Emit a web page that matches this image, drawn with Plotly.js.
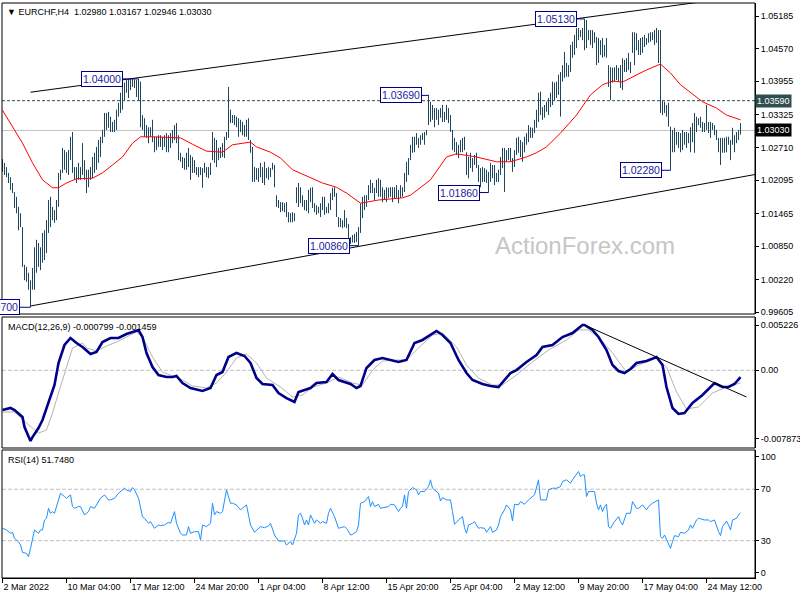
<!DOCTYPE html>
<html><head><meta charset="utf-8">
<script src="https://cdn.plot.ly/plotly-3.0.1.min.js"></script>
<style>html,body{margin:0;padding:0;background:#fff;}#chart{width:800px;height:600px;}</style>
</head><body><div id="chart"></div>
<script>
// ---- EURCHF H4 bars (index 0 = first visible bar) ----
const highs = [
1.0249,1.0242,1.0234,1.0223,1.0215,1.0204,1.0187,1.0178,1.0159,1.0147,
1.0121,1.0050,1.0046,1.0035,1.0021,1.0044,1.0083,1.0097,1.0091,1.0083,
1.0110,1.0115,1.0134,1.0172,1.0178,1.0159,1.0153,1.0172,1.0223,1.0229,
1.0270,1.0266,1.0262,1.0266,1.0291,1.0300,1.0234,1.0234,1.0242,1.0234,
1.0279,1.0247,1.0229,1.0229,1.0234,1.0253,1.0261,1.0272,1.0285,1.0291,
1.0304,1.0336,1.0336,1.0338,1.0329,1.0319,1.0323,1.0342,1.0355,1.0374,
1.0389,1.0393,1.0398,1.0400,1.0400,1.0400,1.0399,1.0398,1.0400,1.0395,
1.0332,1.0326,1.0313,1.0309,1.0309,1.0323,1.0291,1.0291,1.0294,1.0294,
1.0291,1.0294,1.0298,1.0294,1.0298,1.0304,1.0313,1.0317,1.0294,1.0261,
1.0253,1.0251,1.0261,1.0270,1.0257,1.0253,1.0247,1.0234,1.0234,1.0234,
1.0232,1.0242,1.0234,1.0234,1.0242,1.0300,1.0289,1.0285,1.0270,1.0272,
1.0279,1.0291,1.0300,1.0385,1.0342,1.0332,1.0332,1.0329,1.0326,1.0323,
1.0319,1.0313,1.0323,1.0326,1.0285,1.0272,1.0234,1.0232,1.0232,1.0242,
1.0234,1.0244,1.0232,1.0234,1.0232,1.0242,1.0238,1.0181,1.0172,1.0168,
1.0168,1.0166,1.0168,1.0149,1.0147,1.0149,1.0147,1.0196,1.0204,1.0196,
1.0181,1.0172,1.0172,1.0191,1.0195,1.0196,1.0166,1.0162,1.0159,1.0166,
1.0178,1.0178,1.0159,1.0166,1.0185,1.0195,1.0196,1.0185,1.0140,1.0138,
1.0134,1.0153,1.0138,1.0127,1.0102,1.0106,1.0108,1.0112,1.0121,1.0166,
1.0178,1.0181,1.0181,1.0200,1.0210,1.0204,1.0195,1.0210,1.0213,1.0210,
1.0196,1.0191,1.0196,1.0195,1.0196,1.0196,1.0196,1.0200,1.0191,1.0200,
1.0196,1.0223,1.0244,1.0251,1.0276,1.0291,1.0291,1.0298,1.0289,1.0294,
1.0298,1.0300,1.0304,1.0370,1.0357,1.0351,1.0345,1.0345,1.0342,1.0345,
1.0351,1.0338,1.0351,1.0345,1.0332,1.0304,1.0289,1.0281,1.0276,1.0285,
1.0289,1.0291,1.0262,1.0253,1.0261,1.0251,1.0257,1.0261,1.0238,1.0232,
1.0234,1.0232,1.0229,1.0225,1.0242,1.0238,1.0238,1.0223,1.0229,1.0253,
1.0270,1.0270,1.0266,1.0270,1.0270,1.0251,1.0266,1.0289,1.0291,1.0285,
1.0281,1.0291,1.0298,1.0313,1.0309,1.0308,1.0323,1.0342,1.0374,1.0376,
1.0347,1.0351,1.0357,1.0364,1.0374,1.0395,1.0393,1.0395,1.0408,1.0413,
1.0426,1.0451,1.0430,1.0426,1.0464,1.0470,1.0483,1.0496,1.0496,1.0492,
1.0496,1.0513,1.0511,1.0492,1.0492,1.0492,1.0488,1.0479,1.0477,1.0473,
1.0477,1.0464,1.0477,1.0426,1.0422,1.0421,1.0422,1.0426,1.0421,1.0426,
1.0439,1.0436,1.0439,1.0449,1.0432,1.0488,1.0488,1.0486,1.0473,1.0477,
1.0479,1.0483,1.0477,1.0486,1.0488,1.0488,1.0492,1.0496,1.0492,1.0492,
1.0360,1.0357,1.0351,1.0355,1.0310,1.0304,1.0308,1.0300,1.0300,1.0298,
1.0304,1.0300,1.0300,1.0298,1.0309,1.0317,1.0336,1.0329,1.0326,1.0329,
1.0319,1.0317,1.0351,1.0319,1.0319,1.0317,1.0313,1.0304,1.0289,1.0289,
1.0289,1.0289,1.0291,1.0291,1.0285,1.0308,1.0294,1.0300,1.0304,1.0317];
const lows = [
1.0225,1.0219,1.0215,1.0204,1.0191,1.0185,1.0157,1.0147,1.0115,1.0121,
1.0046,1.0021,1.0018,1.0003,0.9970,1.0003,1.0003,1.0035,1.0046,1.0040,
1.0054,1.0059,1.0072,1.0110,1.0121,1.0134,1.0129,1.0134,1.0159,1.0210,
1.0223,1.0229,1.0223,1.0219,1.0247,1.0223,1.0210,1.0204,1.0210,1.0210,
1.0219,1.0210,1.0185,1.0196,1.0210,1.0213,1.0223,1.0229,1.0242,1.0253,
1.0279,1.0291,1.0304,1.0308,1.0300,1.0300,1.0300,1.0304,1.0329,1.0336,
1.0342,1.0360,1.0374,1.0364,1.0379,1.0385,1.0383,1.0366,1.0360,1.0309,
1.0304,1.0291,1.0289,1.0279,1.0291,1.0281,1.0262,1.0266,1.0272,1.0272,
1.0266,1.0272,1.0262,1.0262,1.0270,1.0279,1.0285,1.0279,1.0247,1.0244,
1.0232,1.0229,1.0229,1.0234,1.0210,1.0223,1.0223,1.0219,1.0215,1.0219,
1.0195,1.0223,1.0215,1.0213,1.0219,1.0247,1.0242,1.0234,1.0247,1.0251,
1.0253,1.0251,1.0285,1.0289,1.0317,1.0317,1.0313,1.0309,1.0291,1.0300,
1.0294,1.0291,1.0291,1.0285,1.0261,1.0206,1.0206,1.0210,1.0206,1.0215,
1.0204,1.0200,1.0213,1.0210,1.0215,1.0229,1.0196,1.0159,1.0157,1.0149,
1.0151,1.0149,1.0140,1.0130,1.0130,1.0130,1.0132,1.0166,1.0159,1.0166,
1.0159,1.0153,1.0151,1.0147,1.0168,1.0157,1.0149,1.0144,1.0147,1.0140,
1.0153,1.0144,1.0147,1.0147,1.0153,1.0172,1.0178,1.0140,1.0121,1.0121,
1.0119,1.0121,1.0119,1.0090,1.0089,1.0092,1.0091,1.0093,1.0086,1.0110,
1.0138,1.0153,1.0159,1.0172,1.0185,1.0185,1.0172,1.0185,1.0178,1.0178,
1.0168,1.0172,1.0168,1.0176,1.0178,1.0168,1.0174,1.0176,1.0166,1.0176,
1.0178,1.0187,1.0206,1.0219,1.0247,1.0261,1.0262,1.0276,1.0270,1.0276,
1.0285,1.0276,1.0294,1.0313,1.0319,1.0323,1.0309,1.0323,1.0313,1.0327,
1.0319,1.0319,1.0323,1.0317,1.0300,1.0266,1.0262,1.0257,1.0251,1.0262,
1.0262,1.0266,1.0219,1.0213,1.0232,1.0225,1.0238,1.0232,1.0206,1.0196,
1.0206,1.0206,1.0204,1.0186,1.0206,1.0213,1.0200,1.0206,1.0206,1.0219,
1.0232,1.0187,1.0244,1.0247,1.0244,1.0225,1.0234,1.0257,1.0261,1.0253,
1.0244,1.0262,1.0276,1.0281,1.0289,1.0289,1.0298,1.0308,1.0319,1.0332,
1.0323,1.0327,1.0338,1.0332,1.0347,1.0351,1.0360,1.0364,1.0370,1.0329,
1.0395,1.0402,1.0404,1.0404,1.0413,1.0440,1.0445,1.0458,1.0473,1.0479,
1.0473,1.0454,1.0458,1.0473,1.0464,1.0458,1.0468,1.0426,1.0430,1.0445,
1.0440,1.0442,1.0440,1.0385,1.0360,1.0393,1.0395,1.0398,1.0395,1.0383,
1.0379,1.0413,1.0413,1.0417,1.0411,1.0449,1.0426,1.0454,1.0445,1.0445,
1.0449,1.0460,1.0464,1.0468,1.0470,1.0473,1.0464,1.0468,1.0430,1.0336,
1.0332,1.0336,1.0329,1.0310,1.0228,1.0262,1.0262,1.0276,1.0270,1.0262,
1.0266,1.0276,1.0270,1.0279,1.0262,1.0281,1.0261,1.0300,1.0313,1.0308,
1.0300,1.0300,1.0304,1.0298,1.0289,1.0304,1.0294,1.0285,1.0262,1.0238,
1.0261,1.0261,1.0262,1.0276,1.0247,1.0276,1.0262,1.0279,1.0285,1.0295];

// ---- moving average (red), read at bar indices ----
const maPoints = [[0,1.0341],[5,1.0309],[10,1.0279],[15,1.0242],[20,1.0210],[25,1.0195],[28,1.0195],[32,1.0204],[37,1.0212],[45,1.0213],
[50,1.0223],[55,1.0238],[60,1.0253],[65,1.0279],[69,1.0291],[75,1.0291],[89,1.0289],[95,1.0277],[102,1.0264],[110,1.0262],
[115,1.0276],[124,1.0281],[127,1.0272],[134,1.0262],[139,1.0251],[145,1.0229],[155,1.0213],[160,1.0204],[167,1.0196],[172,1.0185],
[179,1.0166],[182,1.0168],[188,1.0172],[200,1.0176],[204,1.0181],[214,1.0210],[222,1.0253],[227,1.0259],[237,1.0253],[247,1.0244],
[254,1.0244],[262,1.0253],[267,1.0261],[272,1.0272],[279,1.0298],[287,1.0332],[294,1.0370],[300,1.0389],[305,1.0396],[310,1.0394],
[317,1.0407],[322,1.0417],[329,1.0428],[334,1.0411],[339,1.0389],[344,1.0374],[350,1.0357],[357,1.0345],[362,1.0332],[369,1.0323]];

// ---- MACD(12,26,9) ----
const macdPoints = [[0,-0.00458],[4,-0.00435],[6,-0.00458],[10,-0.00539],[11,-0.00654],[14,-0.00816],[15,-0.00770],[18,-0.00666],[20,-0.00573],[24,-0.00308],
[26,-0.00170],[28,0.00084],[31,0.00292],[34,0.00373],[37,0.00315],[40,0.00269],[44,0.00188],[47,0.00211],[50,0.00326],[54,0.00373],
[58,0.00373],[62,0.00419],[66,0.00454],[68,0.00465],[70,0.00384],[72,0.00200],[75,0.00038],[78,-0.00054],[82,-0.00077],[85,-0.00077],
[87,-0.00066],[90,-0.00147],[94,-0.00204],[100,-0.00239],[104,-0.00204],[107,-0.00054],[110,-0.00020],[113,0.00153],[117,0.00200],[121,0.00165],
[124,0.00084],[127,-0.00089],[130,-0.00158],[135,-0.00170],[138,-0.00262],[142,-0.00320],[146,-0.00366],[148,-0.00250],[154,-0.00204],[157,-0.00147],
[162,-0.00135],[165,-0.00043],[168,-0.00112],[174,-0.00158],[177,-0.00204],[179,-0.00181],[182,0.00027],[186,0.00119],[190,0.00142],[194,0.00119],
[198,0.00096],[202,0.00119],[206,0.00315],[210,0.00350],[214,0.00407],[217,0.00454],[220,0.00407],[224,0.00315],[228,0.00119],[232,-0.00031],
[235,-0.00112],[240,-0.00158],[244,-0.00181],[248,-0.00193],[254,-0.00031],[257,0.00003],[262,0.00096],[267,0.00177],[270,0.00269],[275,0.00292],
[280,0.00384],[285,0.00430],[290,0.00523],[291,0.00523],[295,0.00465],[298,0.00384],[302,0.00234],[305,0.00061],[308,-0.00008],[311,-0.00031],
[314,0.00015],[317,0.00084],[322,0.00107],[327,0.00153],[330,0.00061],[332,-0.00193],[335,-0.00435],[338,-0.00504],[341,-0.00493],[345,-0.00377],
[350,-0.00285],[356,-0.00147],[360,-0.00193],[363,-0.00193],[366,-0.00158],[369,-0.00080]];
const signalPoints = [[0,-0.00481],[6,-0.00481],[12,-0.00608],[18,-0.00724],[22,-0.00689],[25,-0.00493],[28,-0.00262],[32,0.00038],[35,0.00257],[40,0.00315],
[42,0.00257],[47,0.00223],[52,0.00280],[57,0.00326],[62,0.00384],[67,0.00442],[70,0.00384],[75,0.00153],[80,-0.00020],[85,-0.00066],
[90,-0.00112],[95,-0.00181],[102,-0.00204],[107,-0.00147],[112,-0.00020],[117,0.00142],[122,0.00188],[127,0.00084],[132,-0.00089],[139,-0.00193],
[145,-0.00308],[150,-0.00285],[155,-0.00193],[162,-0.00147],[168,-0.00077],[175,-0.00147],[180,-0.00170],[185,0.00003],[190,0.00107],[198,0.00119],
[202,0.00119],[208,0.00257],[215,0.00407],[220,0.00430],[227,0.00269],[232,0.00061],[238,-0.00089],[245,-0.00170],[250,-0.00170],[257,-0.00054],
[265,0.00096],[273,0.00234],[282,0.00350],[288,0.00465],[293,0.00465],[298,0.00384],[305,0.00200],[312,-0.00020],[318,0.00061],[327,0.00142],
[332,0.00038],[337,-0.00250],[342,-0.00446],[348,-0.00423],[355,-0.00262],[362,-0.00193],[369,-0.00146]];
const macdTrend = [[291,0.00523],[372,-0.00308]];

// ---- RSI(14) ----
const rsiPoints = [[0,39.6],[2,38.3],[4,35.7],[5,36.5],[6,31.8],[8,29.2],[9,26.6],[10,20.9],[12,20.1],[13,17.5],[14,24.0],[15,30.5],[16,38.3],[18,35.7],[19,38.3],[20,38.3],[21,46.1],[22,47.4],[23,55.2],[24,51.3],[25,52.6],[26,51.3],[28,61.7],[29,66.9],[31,64.3],[32,63.0],[34,65.6],[35,56.5],[36,55.2],[38,56.5],[39,56.5],[41,50.0],[43,52.6],[44,56.5],[46,55.2],[48,60.4],[49,63.0],[51,65.6],[53,61.7],[54,61.7],[56,63.0],[58,66.9],[59,68.2],[61,70.8],[62,69.5],[64,68.2],[65,71.3],[66,69.5],[68,63.0],[69,55.2],[70,48.7],[71,47.4],[73,43.5],[74,44.8],[76,39.6],[78,42.2],[79,41.7],[81,42.2],[83,44.3],[84,43.5],[86,52.6],[87,43.5],[89,35.7],[90,34.4],[92,34.4],[93,40.9],[94,35.7],[96,37.0],[98,37.0],[99,30.5],[100,42.2],[102,40.9],[104,43.5],[105,59.1],[106,50.0],[107,52.6],[109,51.3],[110,52.6],[112,69.5],[114,59.1],[115,59.1],[117,57.8],[119,53.9],[120,55.2],[122,57.8],[123,50.0],[124,42.2],[126,36.5],[128,39.6],[129,40.9],[131,40.1],[133,41.4],[134,43.5],[136,34.4],[138,29.7],[139,29.7],[141,29.7],[142,26.6],[144,29.2],[145,26.6],[147,35.7],[148,50.0],[149,51.3],[150,47.4],[151,42.2],[152,46.1],[153,42.2],[154,50.0],[156,43.5],[157,46.1],[159,43.5],[160,44.8],[162,43.5],[163,51.3],[164,55.2],[166,48.7],[168,39.6],[169,40.1],[171,40.9],[172,39.6],[174,34.4],[175,34.9],[177,37.0],[178,42.2],[179,59.1],[181,60.4],[183,64.3],[184,56.5],[185,60.4],[186,56.5],[188,58.3],[189,55.2],[191,55.7],[193,56.5],[194,58.3],[196,57.8],[198,52.6],[199,55.2],[200,56.5],[201,65.6],[202,55.2],[203,68.2],[205,71.3],[207,69.5],[208,65.6],[209,68.2],[211,68.2],[213,72.1],[214,77.3],[215,70.8],[216,69.5],[218,66.9],[219,60.9],[220,63.5],[222,61.7],[224,61.7],[225,52.6],[226,42.7],[228,46.1],[230,48.7],[231,40.1],[232,35.7],[233,42.2],[235,43.5],[236,44.8],[238,39.6],[239,40.1],[241,39.6],[242,36.5],[243,38.3],[244,40.9],[245,36.5],[247,38.3],[248,42.2],[249,48.7],[251,53.9],[252,57.8],[254,53.9],[255,45.3],[256,58.3],[258,57.8],[259,60.4],[261,58.3],[263,61.7],[264,63.0],[266,65.6],[268,77.3],[269,61.7],[272,61.7],[273,69.5],[275,70.8],[277,70.8],[279,72.1],[280,76.0],[282,77.3],[284,74.7],[285,77.3],[287,81.2],[288,83.8],[289,79.9],[290,81.2],[291,81.2],[292,64.3],[293,68.2],[294,68.2],[296,68.2],[297,59.1],[298,53.9],[299,57.8],[300,52.6],[301,56.5],[302,58.3],[303,40.9],[304,39.6],[306,44.8],[308,48.7],[309,44.8],[310,42.2],[312,51.3],[314,51.3],[315,60.4],[317,55.2],[318,55.2],[320,57.8],[322,53.9],[323,56.5],[325,59.1],[327,60.9],[328,61.7],[329,33.1],[330,31.8],[331,34.4],[334,24.0],[335,29.2],[336,33.9],[338,33.1],[339,36.5],[341,35.7],[343,38.3],[344,42.2],[345,39.6],[347,46.1],[348,47.4],[351,46.1],[353,46.1],[354,44.8],[356,46.1],[358,37.0],[359,33.9],[360,40.9],[362,45.3],[363,42.2],[364,38.3],[365,46.1],[367,47.4],[368,50.0],[369,51.7]];

// ---- channel lines, levels, labels ----
const upperChannel = [[14,1.0375],[347.25,1.0544]];
const lowerChannel = [[14,0.99724],[376.25,1.0220]];
const resistLevel = 1.0359;
const bidLevel = 1.0303;
const swingBars   = [14, 68, 178, 213, 243, 291, 334];
const swingPrices = [0.99700, 1.04000, 1.00860, 1.03690, 1.01860, 1.05130, 1.02280];
const swingText   = ['0.99700','1.04000','1.00860','1.03690','1.01860','1.05130','1.02280'];
const swingBoxRight = [8.75, 60.25, 173.75, 209.75, 238.75, 287.25, 329.75]; // layout: box right edge (bar units)

const priceTicks = [1.05185,1.04570,1.03955,1.03325,1.02710,1.02095,1.01465,1.00850,1.00220,0.99605];
const priceTickText = ['1.05185','1.04570','1.03955','1.03325','1.02710','1.02095','1.01465','1.00850','1.00220','0.99605'];
const macdTicks = [0.005226, 0, -0.007873];
const macdTickText = ['0.005226','0.00','-0.007873'];
const rsiTicks = [95.3, 70, 30, 5.1];
const rsiTickText = ['100','70','30','0'];
const xTickIdx = [0,32,64,96,128,160,192,224,256,288,320,352];
const xTickText = ['2 Mar 2022','10 Mar 04:00','17 Mar 12:00','24 Mar 20:00','1 Apr 04:00','8 Apr 12:00','15 Apr 20:00','25 Apr 04:00','2 May 12:00','9 May 20:00','17 May 04:00','24 May 12:00'];
const titleText = '\u25BC EURCHF,H4\u00A0\u00A01.02980 1.03167 1.02946 1.03030';
const macdText = 'MACD(12,26,9) -0.000799 -0.001459';
const rsiText = 'RSI(14) 51.7480';

// ---- build ----
const FONT = 'Liberation Sans, Arial, sans-serif';
const bx = [], by = [];
for (let i = 0; i < highs.length; i++) { bx.push(i, i, null); by.push(lows[i], highs[i], null); }
const col = (a, k) => a.map(p => p[k]);

const traces = [
  {type:'scatter', mode:'lines', x:bx, y:by, xaxis:'x', yaxis:'y', line:{color:'#1E465F', width:1}, hoverinfo:'skip', connectgaps:false},
  {type:'scatter', mode:'lines', x:col(maPoints,0), y:col(maPoints,1), xaxis:'x', yaxis:'y', line:{color:'#FF0000', width:1}, hoverinfo:'skip'},
  {type:'scatter', mode:'lines', x:col(signalPoints,0), y:col(signalPoints,1), xaxis:'x', yaxis:'y2', line:{color:'#B4B4B4', width:1}, hoverinfo:'skip'},
  {type:'scatter', mode:'lines', x:col(macdPoints,0), y:col(macdPoints,1), xaxis:'x', yaxis:'y2', line:{color:'#00008B', width:2.6}, hoverinfo:'skip'},
  {type:'scatter', mode:'lines', x:col(rsiPoints,0), y:col(rsiPoints,1), xaxis:'x', yaxis:'y3', line:{color:'#1E90FF', width:1}, hoverinfo:'skip'}
];

const axisCommon = {side:'right', showline:true, linecolor:'#000', linewidth:1, ticks:'outside', ticklen:3, tickcolor:'#000',
  showgrid:false, zeroline:false, fixedrange:true, tickfont:{family:FONT, size:9, color:'#000'}};

const shapes = [];
['y domain','y2 domain','y3 domain'].forEach(r => shapes.push({type:'rect', xref:'paper', yref:r, x0:0, x1:1, y0:0, y1:1, line:{color:'#000', width:1}, fillcolor:'rgba(0,0,0,0)'}));
shapes.push({type:'line', layer:'below', xref:'paper', yref:'y', x0:0, x1:1, y0:resistLevel, y1:resistLevel, line:{color:'#2F4F4F', width:1, dash:'3px,2px'}});
shapes.push({type:'line', layer:'below', xref:'paper', yref:'y', x0:0, x1:1, y0:bidLevel, y1:bidLevel, line:{color:'#C0C0C0', width:1}});
shapes.push({type:'line', xref:'x', yref:'y', x0:upperChannel[0][0], y0:upperChannel[0][1], x1:upperChannel[1][0], y1:upperChannel[1][1], line:{color:'#000', width:1}});
shapes.push({type:'line', xref:'x', yref:'y', x0:lowerChannel[0][0], y0:lowerChannel[0][1], x1:lowerChannel[1][0], y1:lowerChannel[1][1], line:{color:'#000', width:1}});
shapes.push({type:'line', layer:'below', xref:'paper', yref:'y2', x0:0, x1:1, y0:0, y1:0, line:{color:'#C0C0C0', width:1, dash:'4px,2px'}});
[70,30].forEach(v => shapes.push({type:'line', layer:'below', xref:'paper', yref:'y3', x0:0, x1:1, y0:v, y1:v, line:{color:'#C0C0C0', width:1, dash:'4px,2px'}}));
shapes.push({type:'line', xref:'x', yref:'y2', x0:macdTrend[0][0], y0:macdTrend[0][1], x1:macdTrend[1][0], y1:macdTrend[1][1], line:{color:'#000', width:1}});
swingBars.forEach((b, k) => shapes.push({type:'line', xref:'x', yref:'y', x0:swingBoxRight[k], x1:b, y0:swingPrices[k], y1:swingPrices[k], line:{color:'#000080', width:1}}));

const annotations = [];
annotations.push({xref:'paper', yref:'paper', x:0, y:1, xanchor:'left', yanchor:'top', xshift:3, yshift:-2, showarrow:false, text:titleText, font:{family:FONT, size:9, color:'#000'}});
annotations.push({xref:'paper', yref:'y2 domain', x:0, y:1, xanchor:'left', yanchor:'top', xshift:4, yshift:-3, showarrow:false, text:macdText, font:{family:FONT, size:9, color:'#000'}});
annotations.push({xref:'paper', yref:'y3 domain', x:0, y:1, xanchor:'left', yanchor:'top', xshift:4, yshift:-3, showarrow:false, text:rsiText, font:{family:FONT, size:9, color:'#000'}});
annotations.push({xref:'paper', yref:'paper', x:0.7740, y:0.5774, xanchor:'center', yanchor:'middle', showarrow:false, text:'ActionForex.com', font:{family:FONT, size:24, color:'#C6C6C6'}});
swingBars.forEach((b, k) => annotations.push({xref:'x', yref:'y', x:swingBoxRight[k], y:swingPrices[k], xanchor:'right', yanchor:'middle', showarrow:false,
  text:swingText[k], font:{family:FONT, size:10.5, color:'#1C1C9C'}, bgcolor:'#FFFFFF', bordercolor:'#000080', borderwidth:1, borderpad:1}));
annotations.push({xref:'paper', yref:'y', x:1, y:resistLevel, xanchor:'left', yanchor:'middle', xshift:0, showarrow:false, text:'1.03590',
  font:{family:FONT, size:9, color:'#FFFFFF'}, bgcolor:'#2F4F4F', borderpad:1});
annotations.push({xref:'paper', yref:'y', x:1, y:bidLevel, xanchor:'left', yanchor:'middle', xshift:0, showarrow:false, text:'1.03030',
  font:{family:FONT, size:9, color:'#FFFFFF'}, bgcolor:'#000000', borderpad:1});

const layout = {
  width:800, height:600, margin:{l:2, r:45, t:3, b:22, pad:0},
  paper_bgcolor:'#FFFFFF', plot_bgcolor:'#FFFFFF', showlegend:false,
  font:{family:FONT, size:9, color:'#000'},
  xaxis:{range:[-0.25, 376.25], anchor:'y3', showline:true, linecolor:'#000', linewidth:1, ticks:'outside', ticklen:4, tickcolor:'#000',
    tickvals:xTickIdx, ticktext:xTickText, ticklabelposition:'outside right', showgrid:false, zeroline:false, fixedrange:true,
    tickfont:{family:FONT, size:9, color:'#000'}},
  yaxis:Object.assign({domain:[0.45913, 1], range:[0.99573, 1.05430], tickvals:priceTicks, ticktext:priceTickText}, axisCommon),
  yaxis2:Object.assign({domain:[0.22609, 0.45391], range:[-0.008964, 0.006149], tickvals:macdTicks, ticktext:macdTickText}, axisCommon),
  yaxis3:Object.assign({domain:[0, 0.22261], range:[0.93, 100.54], tickvals:rsiTicks, ticktext:rsiTickText}, axisCommon),
  shapes:shapes, annotations:annotations
};

Plotly.newPlot('chart', traces, layout, {staticPlot:true, displayModeBar:false});
</script>
</body></html>
